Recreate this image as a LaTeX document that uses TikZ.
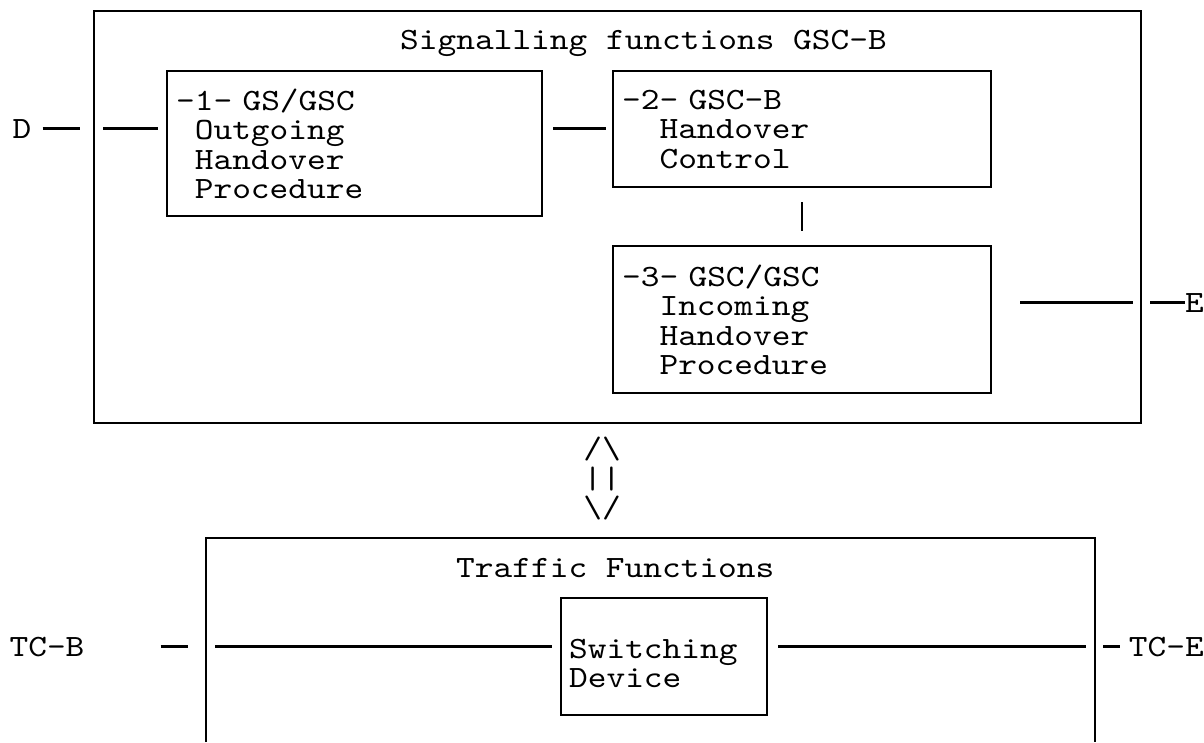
\documentclass[tikz,border=0pt]{standalone}
\usepackage{fontspec}
\usepackage{tikz}
\newfontfamily\diagfont{lmmono10-regular}[Extension=.otf, FakeStretch=1.15]
\newcommand{\chsp}{\hphantom{x}}

\begin{document}
\begin{tikzpicture}[x=1pt,y=-1pt,
        every node/.style={font=\diagfont\fontsize{31}{29.5}\selectfont, inner sep=0pt},
        box/.style={draw, line width=2.2pt, align=left, anchor=north west, inner xsep=9pt},
        wire/.style={line width=2.2pt}]
        \useasboundingbox (0,0) rectangle (1204,742);

        % signalling functions
        \node[draw, line width=2.2pt, anchor=north west, minimum width=1047pt, minimum height=412pt] (sig) at (93,10) {};
        \node[anchor=base west] (sigtitle) at (400,49) {Signalling functions GSC-B};

        \node[box, text width=357pt, minimum height=145pt] (gso) at (166,70) {-1- GS/GSC\\\chsp Outgoing\\\chsp Handover\\\chsp Procedure};
        \node[box, text width=360pt, minimum height=116pt] (ctrl) at (612,70) {-2- GSC-B\\\chsp\chsp Handover\\\chsp\chsp Control};
        \node[box, text width=360pt, minimum height=147pt] (inc) at (612,245) {-3- GSC/GSC\\\chsp\chsp Incoming\\\chsp\chsp Handover\\\chsp\chsp Procedure};

        \node[anchor=base] (D) at (22,138) {D};
        \node[anchor=base east] (E) at (1204,312) {E};

        \draw[wire, shorten <=11pt, shorten >=13pt] (D.east) -- (sig.west |- D.east);
        \draw[wire, shorten <=10pt, shorten >=8pt] (sig.west |- D.east) -- (gso.west |- D.east);
        \draw[wire, shorten <=10pt, shorten >=6pt] (gso.east |- D.east) -- (ctrl.west |- D.east);
        \draw[wire, shorten <=14pt, shorten >=14pt] (ctrl.south) -- (inc.north);
        \draw[wire, shorten <=28pt, shorten >=9pt] (inc.east |- E.west) -- (sig.east |- E.west);
        \draw[wire, shorten <=8pt] (sig.east |- E.west) -- (E.west);

        % link between the two parts
        \node[align=center] (link) at (602,479) {/\textbackslash\\||\\\textbackslash/};

        % traffic functions
        \coordinate (tl) at (206,538);
        \coordinate (tr) at (1095,538);
        \coordinate (bl) at (206,742);
        \coordinate (br) at (1095,742);
        \draw[wire] (bl) -- (tl) -- (tr) -- (br);
        \node[anchor=base west] (traftitle) at (456,577) {Traffic Functions};
        \node[box, text width=190pt, minimum height=117pt, inner xsep=8pt] (switch) at (560,597) {\rule{0pt}{33pt}Switching\\Device};

        \node[anchor=base] (TCB) at (47,656) {TC-B};
        \node[anchor=base east] (TCE) at (1204,656) {TC-E};

        \draw[wire, shorten <=76pt, shorten >=18pt] (TCB.east) -- (tl |- TCB.east);
        \draw[wire, shorten <=9pt, shorten >=8pt] (tl |- TCB.east) -- (switch.west |- TCB.east);
        \draw[wire, shorten <=10pt, shorten >=9pt] (switch.east |- TCB.east) -- (tr |- TCB.east);
        \draw[wire, shorten <=8pt, shorten >=9pt] (tr |- TCB.east) -- (TCE.west);
\end{tikzpicture}
\end{document}
